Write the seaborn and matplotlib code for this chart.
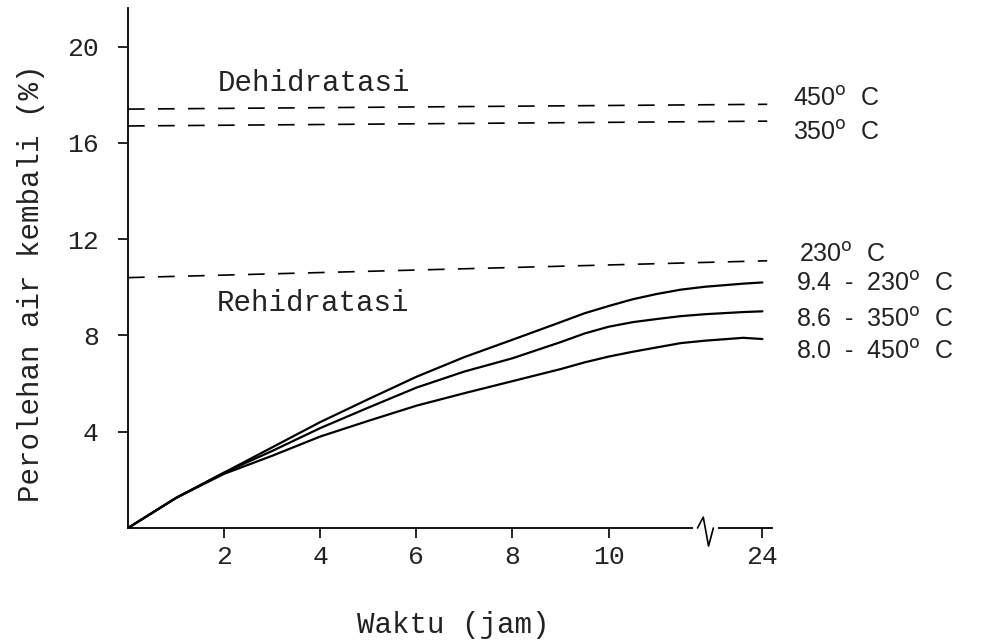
import numpy as np
import pandas as pd
import matplotlib
matplotlib.use("Agg")
import matplotlib.pyplot as plt
import seaborn as sns

# Time (hours) and water regain (%) for each calcination temperature
hours = [0, 1, 2, 3, 4, 5, 6, 7, 8, 9, 9.5, 10, 10.5, 11, 11.5, 12, 20, 24]
regain_230 = [0, 1.25, 2.3, 3.35, 4.4, 5.35, 6.28, 7.1, 7.82, 8.55, 8.92, 9.22,
              9.5, 9.72, 9.9, 10.02, 10.15, 10.2]
regain_350 = [0, 1.25, 2.3, 3.2, 4.15, 5.0, 5.83, 6.5, 7.05, 7.72, 8.08, 8.36,
              8.55, 8.68, 8.8, 8.88, 8.97, 9.0]
regain_450 = [0, 1.25, 2.25, 3.0, 3.8, 4.45, 5.08, 5.6, 6.1, 6.6, 6.88, 7.12,
              7.32, 7.5, 7.68, 7.78, 7.9, 7.85]

# Dehydration levels (start, end) drawn as dashed reference lines
dehyd_labels = ["450", "350", "230"]
dehyd_start = [17.4, 16.7, 10.4]
dehyd_end = [17.6, 16.9, 11.1]

curve_labels = ["9.4 - 230", "8.6 - 350", "8.0 - 450"]
x_tick_hours = [2, 4, 6, 8, 10, 24]
y_ticks = [4, 8, 12, 16, 20]

# Broken time axis: linear to 12 h, then 12-24 h squeezed into 1.2 units
BREAK = 12.0


def axis_pos(t):
    t = np.asarray(t, dtype=float)
    return np.where(t <= BREAK, t, BREAK + (t - BREAK) * 0.1)


sns.set_style("ticks")
plt.rcParams["font.family"] = ["Liberation Mono", "DejaVu Sans Mono"]

fig = plt.figure(figsize=(9.93, 6.40), dpi=100)
ax = fig.add_axes([128 / 993, 1 - 528 / 640, 644 / 993, 520 / 640])

curves = pd.DataFrame({
    "jam": np.tile(hours, 3),
    "pos": np.tile(axis_pos(hours), 3),
    "nilai": regain_230 + regain_350 + regain_450,
    "suhu": np.repeat(["230", "350", "450"], len(hours)),
})
sns.lineplot(data=curves, x="pos", y="nilai", units="suhu", estimator=None,
             color="black", linewidth=1.6, ax=ax, legend=False)

x_end = float(axis_pos(24)) + 0.1
dashed = pd.DataFrame({
    "pos": np.tile([0.0, x_end], 3),
    "nilai": [v for pair in zip(dehyd_start, dehyd_end) for v in pair],
    "suhu": np.repeat(dehyd_labels, 2),
})
for suhu, grp in dashed.groupby("suhu"):
    sns.lineplot(data=grp, x="pos", y="nilai", color="black", linewidth=1.2,
                 linestyle=(0, (10, 8)), ax=ax, legend=False)

ax.set_xlim(0, 13.4)
ax.set_ylim(0, 21.6)
ax.set_xticks(axis_pos(x_tick_hours))
ax.set_xticklabels([str(h) for h in x_tick_hours])
ax.set_yticks(y_ticks)
ax.set_yticklabels([str(v) for v in y_ticks])
ax.set_xlabel("")
ax.set_ylabel("")
sns.despine(ax=ax)
for side in ("left", "bottom"):
    ax.spines[side].set_linewidth(1.3)
    ax.spines[side].set_color("black")
ax.tick_params(axis="both", direction="out", length=7, width=1.2,
               labelsize=19, color="black", labelcolor="#222222")
ax.tick_params(axis="y", pad=14)
ax.tick_params(axis="x", pad=5)

# Axis-break zigzag at 12 h
zx = [11.85, 11.97, 12.08, 12.18]
zy = [0.0, 0.45, -0.75, 0.0]
ax.plot([11.8, 12.23], [0, 0], color="white", linewidth=3, clip_on=False, zorder=5)
ax.plot(zx, zy, color="black", linewidth=1.2, clip_on=False, zorder=6)

# Region titles
ax.text(1.87, 18.5, "Dehidratasi", fontsize=21, ha="left", va="center", color="#222222")
ax.text(1.85, 9.34, "Rehidratasi", fontsize=21, ha="left", va="center", color="#222222")

# Right-hand labels
lab_font = ["Liberation Sans", "DejaVu Sans"]
deg = r"$^{\mathrm{o}}$"
for name, xpix, ypix in zip(dehyd_labels, [794, 794, 800], [98, 132, 255]):
    ax.text((xpix - 128) / 48.1, (528 - ypix) / 24.1, f"{name}{deg}  C", fontsize=18,
            family=lab_font, ha="left", va="center", color="#222222", clip_on=False)
for lab, ypix in zip(curve_labels, [284, 320, 352]):
    val, temp = lab.split(" - ")
    ax.text((797 - 128) / 48.1, (528 - ypix) / 24.1, f"{val}  -  {temp}{deg}  C",
            fontsize=18, family=lab_font, ha="left", va="center", color="#222222",
            clip_on=False)

fig.text(31 / 993, 1 - 283 / 640, "Perolehan air kembali (%)", rotation=90,
         fontsize=21, ha="center", va="center", color="#222222")
fig.text(453 / 993, 1 - 625 / 640, "Waktu (jam)", fontsize=21,
         ha="center", va="center", color="#222222")

fig.savefig("out.png", dpi=100, facecolor="white")
